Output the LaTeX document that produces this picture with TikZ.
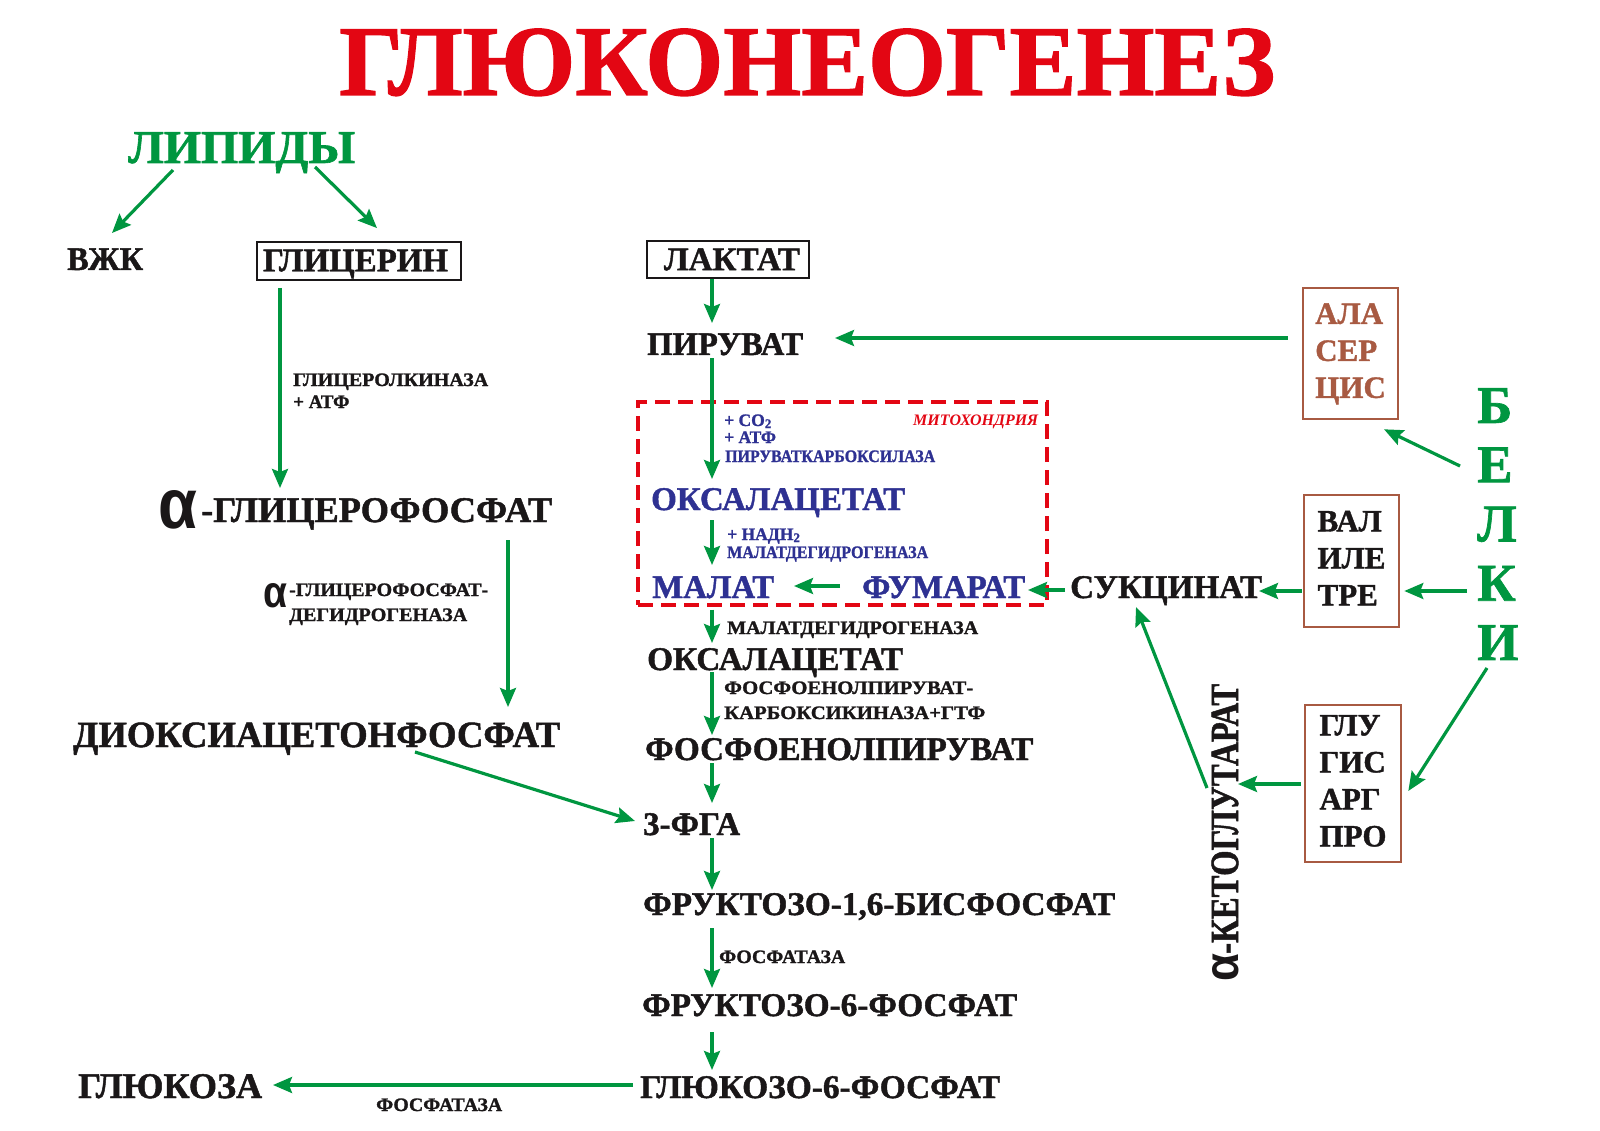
\documentclass[tikz,border=0pt]{standalone}
\usepackage{fontspec}
\setmainfont{Liberation Serif}[BoldFeatures={FakeBold=1.3}]
\newfontfamily\alfont{Liberation Sans}
\usepackage{graphicx}
\usetikzlibrary{arrows.meta}
\definecolor{gr}{RGB}{0,150,64}
\definecolor{rd}{RGB}{227,6,19}
\definecolor{nv}{RGB}{46,49,146}
\definecolor{br}{RGB}{168,90,66}
\definecolor{bk}{RGB}{26,23,24}
\newcommand{\fw}[2]{\resizebox{#1}{\height}{#2}}
\newcommand{\alglyph}[2]{\resizebox{#1}{#2}{\alfont α}}
\newcommand{\fs}[1]{\fontsize{#1}{#1}\selectfont}
\begin{document}
\begin{tikzpicture}[x=1pt,y=-1pt,
  txt/.style={inner sep=0pt, anchor=base west, text=bk, font=\bfseries},
  big/.style={txt, font=\bfseries\fs{33}},
  bigb/.style={txt, text=nv, font=\bfseries\fs{33}},
  lbl/.style={txt, font=\bfseries\fs{19}},
  blbl/.style={txt, text=nv, font=\bfseries\fs{17.5}},
  tbox/.style={draw=bk, line width=1.8pt, inner sep=0pt, text=bk, font=\bfseries\fs{33}, minimum height=38pt},
  aabox/.style={draw=br, line width=2.6pt, inner sep=0pt, font=\bfseries\fontsize{31}{37}\selectfont},
  mitobox/.style={draw=rd, dash pattern=on 15pt off 8pt, line width=3.3pt, inner sep=0pt},
  arr/.style={draw=gr, line width=3.2pt, -{Stealth[length=19pt,width=16pt,inset=3pt]}}]
\useasboundingbox (0,0) rectangle (1600,1131);

% title and lipids
\node[txt,text=rd,font=\bfseries\fs{100}] (title) at (339,95) {\fw{936pt}{ГЛЮКОНЕОГЕНЕЗ}};
\node[txt,text=gr,font=\bfseries\fs{47}] (lip) at (128,163) {\fw{227pt}{ЛИПИДЫ}};
\node[big] (vzhk) at (67,270) {\fw{76pt}{ВЖК}};
\node[tbox,minimum width=204pt] (glic) at (359,261) {\raisebox{-3pt}[\height][\depth]{\fw{185pt}{ГЛИЦЕРИН}}\hspace*{7pt}};
\node[txt,font=\bfseries\fs{36}] (aglic) at (158,522) {\raisebox{-6pt}{\alglyph{39pt}{38pt}}\hspace{4pt}\fw{351pt}{-ГЛИЦЕРОФОСФАТ}};
\node[txt,font=\bfseries\fs{37}] (dhap) at (73,747) {\fw{487pt}{ДИОКСИАЦЕТОНФОСФАТ}};
\node[txt,font=\bfseries\fs{36}] (gluc) at (78,1098) {\fw{184pt}{ГЛЮКОЗА}};

% labels left
\node[lbl] (gk1) at (293,386) {\fw{195pt}{ГЛИЦЕРОЛКИНАЗА}};
\node[lbl] (gk2) at (293,408) {+ АТФ};
\node[lbl] (gd1) at (263,596) {\raisebox{-11pt}{\alglyph{24pt}{24pt}}\hspace{2pt}\fw{199pt}{-ГЛИЦЕРОФОСФАТ-}};
\node[lbl] (gd2) at (289,621) {\fw{178pt}{ДЕГИДРОГЕНАЗА}};
\node[lbl] (fa2) at (376,1111) {\fw{126pt}{ФОСФАТАЗА}};

% center column
\node[tbox,minimum width=162pt,minimum height=37pt] (lakt) at (728,259.5) {\hspace*{8pt}\fw{136pt}{ЛАКТАТ}};
\node[big] (piruv) at (647,355) {\fw{156pt}{ПИРУВАТ}};
\node[mitobox,minimum width=409pt,minimum height=203pt] (mito) at (842.5,503.5) {};
\node[txt,text=rd,font=\bfseries\itshape\fs{16}] (mitolab) at (913,425.5) {\fw{125pt}{МИТОХОНДРИЯ}};
\node[blbl] (pc1) at (724,426) {+ CO\raisebox{-2pt}{\fs{13}2}};
\node[blbl] (pc2) at (724,443) {+ АТФ};
\node[blbl] (pc3) at (725,462) {\fw{210pt}{ПИРУВАТКАРБОКСИЛАЗА}};
\node[bigb] (oksb) at (651,510) {\fw{254pt}{ОКСАЛАЦЕТАТ}};
\node[blbl] (md1) at (727,540) {+ НАДН\raisebox{-2pt}{\fs{13}2}};
\node[blbl] (md2) at (727,558) {\fw{201pt}{МАЛАТДЕГИДРОГЕНАЗА}};
\node[bigb] (malat) at (652,598) {\fw{122pt}{МАЛАТ}};
\node[bigb] (fum) at (862,598) {\fw{163pt}{ФУМАРАТ}};
\node[big] (sukc) at (1070,598) {\fw{192pt}{СУКЦИНАТ}};
\node[lbl] (md3) at (727,634) {\fw{251pt}{МАЛАТДЕГИДРОГЕНАЗА}};
\node[big] (oks) at (647,670) {\fw{256pt}{ОКСАЛАЦЕТАТ}};
\node[lbl] (pk1) at (724,694) {\fw{249pt}{ФОСФОЕНОЛПИРУВАТ-}};
\node[lbl] (pk2) at (724,719) {\fw{261pt}{КАРБОКСИКИНАЗА+ГТФ}};
\node[big] (fep) at (645,760) {\fw{388pt}{ФОСФОЕНОЛПИРУВАТ}};
\node[big] (fga) at (643,835) {\fw{97pt}{3-ФГА}};
\node[big] (fbf) at (643,915) {\fw{472pt}{ФРУКТОЗО-1,6-БИСФОСФАТ}};
\node[lbl] (fa1) at (719,963) {\fw{126pt}{ФОСФАТАЗА}};
\node[big] (ff) at (642,1016) {\fw{375pt}{ФРУКТОЗО-6-ФОСФАТ}};
\node[big] (gf) at (640,1098) {\fw{360pt}{ГЛЮКОЗО-6-ФОСФАТ}};

% right side: proteins
\node[aabox,text=br,minimum width=95pt,minimum height=131pt] (ala) at (1350.5,353.5) {\begin{tabular}{@{}l@{}}АЛА\\СЕР\\ЦИС\end{tabular}};
\node[aabox,text=bk,minimum width=95pt,minimum height=132pt] (val) at (1351.5,561) {\begin{tabular}{@{}l@{}}ВАЛ\\ИЛЕ\\ТРЕ\end{tabular}};
\node[aabox,text=bk,minimum width=96pt,minimum height=157pt] (glu) at (1353,783.5) {\begin{tabular}{@{}l@{}}ГЛУ\\ГИС\\АРГ\\ПРО\end{tabular}};
\node[inner sep=0pt,anchor=west,text=gr,font=\bfseries\fontsize{53}{59.25}\selectfont] (belki) at (1477,529.6) {\begin{tabular}{@{}l@{}}Б\\Е\\Л\\К\\И\end{tabular}};
\node[txt,font=\bfseries\fs{40},rotate=90] (kg) at (1238,982) {\alglyph{28pt}{26pt}\fw{270pt}{-КЕТОГЛУТАРАТ}};

% connectors
\draw[arr] ([shift={(45,7)}]lip.base west) -- ([shift={(45,-37)}]vzhk.base west);
\draw[arr] ([shift={(187,4)}]lip.base west) -- ([shift={(18,-13)}]glic.north);
\draw[arr] ([shift={(-79,7)}]glic.south) -- ([shift={(122,-34)}]aglic.base west);
\draw[arr] ([shift={(350,18)}]aglic.base west) -- ([shift={(435,-40)}]dhap.base west);
\draw[arr] ([shift={(342,5)}]dhap.base west) -- ([shift={(-8,-14)}]fga.base west);
\draw[arr] ([shift={(-16,0)}]lakt.south) -- ([shift={(65,-32)}]piruv.base west);
\draw[arr] ([shift={(-14,-15.5)}]ala.west) -- ([shift={(188,-17)}]piruv.base west);
\draw[arr] ([shift={(65,3)}]piruv.base west) -- ([shift={(61,-31)}]oksb.base west);
\draw[arr] ([shift={(61,10)}]oksb.base west) -- ([shift={(60,-33)}]malat.base west);
\draw[arr] ([shift={(-22,-12)}]fum.base west) -- ([shift={(142,-12)}]malat.base west);
\draw[arr] ([shift={(-5,-8)}]sukc.base west) -- ([shift={(166,-8)}]fum.base west);
\draw[arr] ([shift={(-1,30)}]val.west) -- ([shift={(189,-7)}]sukc.base west);
\draw[arr] ([shift={(-10,61.4)}]belki.west) -- ([shift={(4,30)}]val.east);
\draw[arr] ([shift={(-17,-63.6)}]belki.west) -- ([shift={(33.5,9)}]ala.south);
\draw[arr] ([shift={(10,138.4)}]belki.west) -- ([shift={(6,7.5)}]glu.east);
\draw[arr] ([shift={(-3,0.5)}]glu.west) -- ([shift={(0,-198)}]kg.base west);
\draw[arr] ([shift={(-31,-194)}]kg.base west) -- ([shift={(66,9)}]sukc.base west);
\draw[arr] ([shift={(-130.5,3)}]mito.south) -- ([shift={(65,-27)}]oks.base west);
\draw[arr] ([shift={(65,2)}]oks.base west) -- ([shift={(67,-25)}]fep.base west);
\draw[arr] ([shift={(67,3)}]fep.base west) -- ([shift={(69,-32)}]fga.base west);
\draw[arr] ([shift={(69,3)}]fga.base west) -- ([shift={(69,-25)}]fbf.base west);
\draw[arr] ([shift={(69,13)}]fbf.base west) -- ([shift={(70,-28)}]ff.base west);
\draw[arr] ([shift={(70,16)}]ff.base west) -- ([shift={(72,-28)}]gf.base west);
\draw[arr] ([shift={(-7,-13)}]gf.base west) -- ([shift={(195,-13)}]gluc.base west);
\end{tikzpicture}
\end{document}
